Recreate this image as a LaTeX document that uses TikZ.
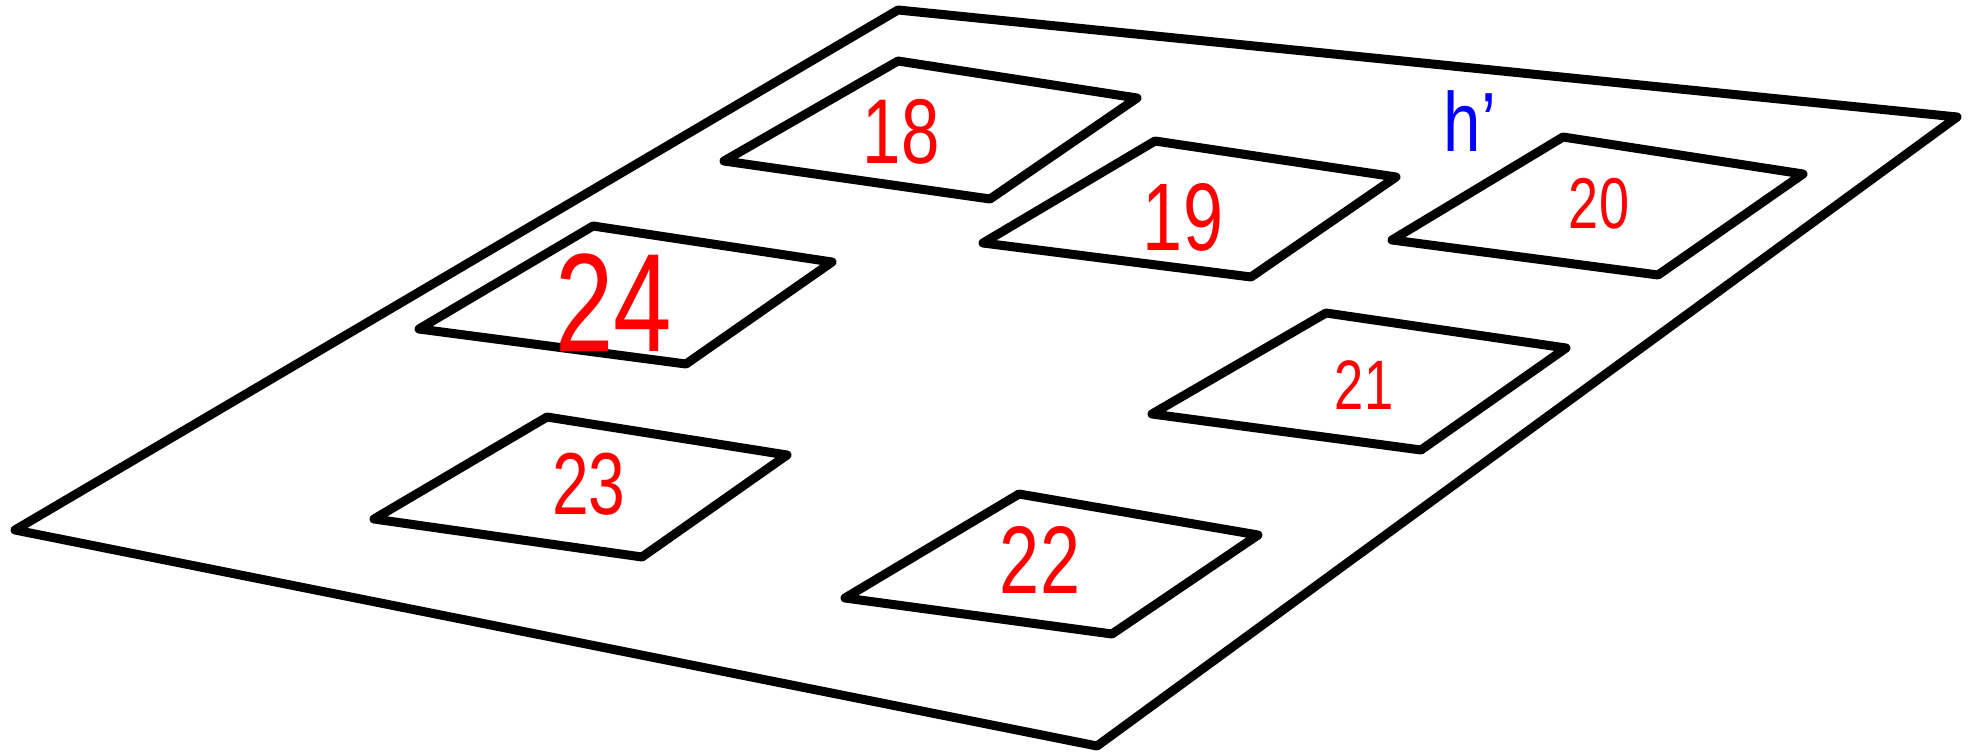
\documentclass[tikz,border=0pt]{standalone}
\usepackage{fontspec}
\setmainfont{Liberation Sans}
\begin{document}
\begin{tikzpicture}[x=1pt,y=-1pt,
  plate/.style={draw=black,line width=9pt,line join=round,line cap=round},
  num/.style={text=red,inner sep=0pt,xscale=0.75},
  lbl/.style={text=blue,inner sep=0pt,xscale=0.8}]
\useasboundingbox (0,0) rectangle (1977,754);
\draw[plate] (898,10) -- (1957,117) -- (1097,746) -- (15,530) -- cycle;
% boxes
\draw[plate] (898,61) -- (1137,98) -- (990,199) -- (724,161) -- cycle;
\draw[plate] (1155,141) -- (1396,177) -- (1251,277) -- (983,243) -- cycle;
\draw[plate] (1563,137) -- (1803,174) -- (1658,275) -- (1392,240) -- cycle;
\draw[plate] (593,226) -- (832,262) -- (686,364) -- (419,329) -- cycle;
\draw[plate] (1326,313) -- (1566,348) -- (1421,450) -- (1152,414) -- cycle;
\draw[plate] (547,417) -- (787,455) -- (642,557) -- (374,519) -- cycle;
\draw[plate] (1019,494) -- (1258,535) -- (1112,634) -- (845,598) -- cycle;
% labels
\node[num,font=\fontsize{92}{92}\selectfont] (n18) at (901,132) {18};
\node[num,font=\fontsize{96}{96}\selectfont] (n19) at (1183,217) {19};
\node[num,font=\fontsize{72}{72}\selectfont] (n20) at (1599,204) {20};
\node[num,font=\fontsize{140}{140}\selectfont] (n24) at (614,303) {24};
\node[num,font=\fontsize{70}{70}\selectfont] (n21) at (1364,385) {21};
\node[num,font=\fontsize{88}{88}\selectfont] (n23) at (589,484) {23};
\node[num,font=\fontsize{96}{96}\selectfont] (n22) at (1040,560) {22};
\node[lbl,font=\fontsize{84}{84}\selectfont] (h) at (1470,121) {h'};
\end{tikzpicture}
\end{document}
